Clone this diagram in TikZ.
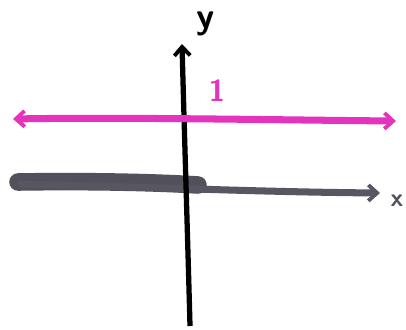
\documentclass[tikz,border=0pt]{standalone}
\usetikzlibrary{arrows.meta}
\definecolor{mag}{RGB}{228,52,190}
\definecolor{penGray}{RGB}{88,86,96}
\definecolor{penDark}{RGB}{82,80,90}
\begin{document}
\begin{tikzpicture}[x=0.02cm,y=-0.02cm,
  barb/.style={-{Straight Barb[length=5pt,width=9pt,line width=2.2pt]}},
  lbl/.style={inner sep=0pt}]
\useasboundingbox (0,0) rectangle (406,329);
% axis points
\coordinate (ybot) at (190,326);
\coordinate (ytop) at (182,44);
\coordinate (mL) at (13,119);
\coordinate (mR) at (396,121);
\coordinate (xL) at (18,184);
\coordinate (xR) at (380,193);
\coordinate (bL) at (18,182);
\coordinate (bR) at (198,185);
\coordinate (sL) at (70,184);
\coordinate (sR) at (110,184);
% thick dark band (left part of x axis)
\draw[penDark,line width=10pt,line cap=round] (bL) .. controls (80,181) and (150,182) .. (bR);
\draw[mag!70!white,line width=1.5pt,line cap=round] (sL) -- (sR);
% x axis
\draw[penGray,line width=4pt,barb] (xL) .. controls (150,187) and (260,192) .. (xR);
% y axis
\draw[black,line width=3pt,barb] (ybot) .. controls (188,250) and (184,120) .. (ytop);
% magenta line
\draw[mag,line width=4pt,{Straight Barb[length=5pt,width=9pt,line width=2.2pt]}-{Straight Barb[length=5pt,width=9pt,line width=2.2pt]}]
  (mL) .. controls (120,117) and (280,120) .. (mR);
% labels
\node[lbl,font=\huge] (ylab) at (206,24) {\textbf{\textsf{y}}};
\node[lbl,font=\LARGE,mag] (one) at (217,91) {\textbf{\textsf{1}}};
\node[lbl,font=\Large,penDark] (xlab) at (397,201) {\textbf{\textsf{x}}};
\end{tikzpicture}
\end{document}
